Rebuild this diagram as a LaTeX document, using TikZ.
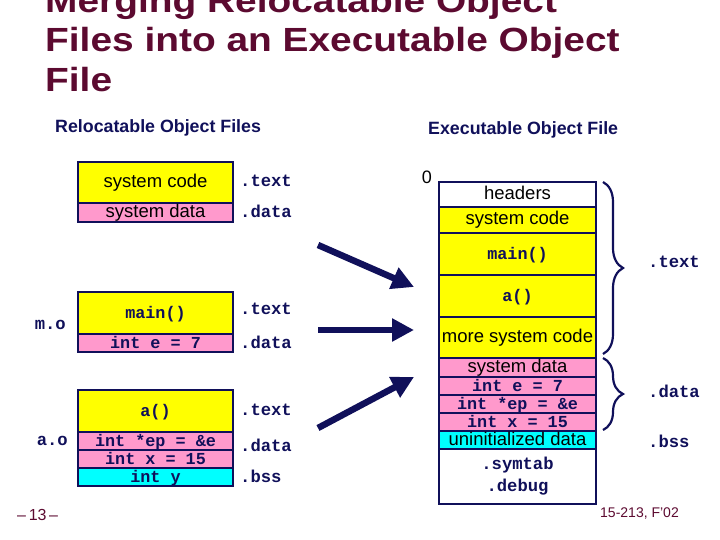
\documentclass[tikz,border=0pt]{standalone}
\usepackage{fontspec}
\setmainfont{Liberation Sans}
\newfontfamily\titlefont[FakeStretch=1.16]{Liberation Sans}
\newfontfamily\monofont{Liberation Mono}
\usetikzlibrary{arrows.meta,decorations.pathreplacing}
\definecolor{navy}{HTML}{10105A}
\definecolor{maroon}{HTML}{5C0A30}
\definecolor{segyellow}{HTML}{FFFF00}
\definecolor{segpink}{HTML}{FF99CC}
\definecolor{segcyan}{HTML}{00FFFF}
\begin{document}
\begin{tikzpicture}[x=1pt,y=-1pt,
  seg/.style={draw=navy, line width=1.6pt, inner sep=0pt, anchor=center, text=black},
  lseg/.style={seg, minimum width=155pt},
  rseg/.style={seg, minimum width=157pt},
  yel/.style={fill=segyellow},
  pnk/.style={fill=segpink},
  cyn/.style={fill=segcyan},
  wht/.style={fill=white},
  sans/.style={font=\fontsize{18.5}{21}\selectfont, text height=13pt, text depth=3pt},
  code/.style={font=\monofont\bfseries\fontsize{16.8}{18}\selectfont, text height=12pt, text depth=2pt, text=navy},
  sect/.style={font=\monofont\bfseries\fontsize{17.2}{18}\selectfont, text=navy, anchor=west, inner sep=0pt},
  objname/.style={font=\monofont\bfseries\fontsize{17.2}{18}\selectfont, text=navy, anchor=east, inner sep=0pt},
  heading/.style={font=\bfseries\fontsize{17.8}{20}\selectfont, text=navy, anchor=west, inner sep=0pt},
  titleline/.style={font=\titlefont\bfseries\fontsize{33.5}{40}\selectfont, text=maroon, anchor=base west, inner sep=0pt},
  bigarrow/.style={draw=navy, line width=6.5pt, -{Triangle[length=22pt,width=22pt]}},
  sbrace/.style={draw=navy, line width=2.2pt, decorate, decoration={brace, amplitude=20pt}}
]
\useasboundingbox (0,0) rectangle (720,540);
\clip (0,0) rectangle (720,540);

% title
\node[titleline] (t1) at (45,13) {Merging Relocatable Object};
\node[titleline] (t2) at (45,52) {Files into an Executable Object};
\node[titleline] (t3) at (45,92) {File};

% headings
\node[heading] (hl) at (55,128) {Relocatable Object Files};
\node[heading] (hr) at (428,130) {Executable Object File};

% left: system object
\node[lseg,yel,sans,minimum height=41pt] (lsc) at (155.5,182.5) {system code};
\node[lseg,pnk,sans,minimum height=19pt] (lsd) at (155.5,212.5) {system data};
\node[sect] (st1) at (240,181) {.text};
\node[sect] (sd1) at (240,211) {.data};

% m.o
\node[lseg,yel,code,minimum height=42pt] (lmain) at (155.5,313) {main()};
\node[lseg,pnk,code,minimum height=18pt] (le) at (155.5,343) {int e = 7};
\node[objname] (mo) at (66,325) {m.o};
\node[sect] (st2) at (240,309) {.text};
\node[sect] (sd2) at (240,342) {.data};

% a.o
\node[lseg,yel,code,minimum height=42pt] (la) at (155.5,411) {a()};
\node[lseg,pnk,code,minimum height=18pt] (lep) at (155.5,441) {int *ep = \&e};
\node[lseg,pnk,code,minimum height=18pt] (lx) at (155.5,459) {int x = 15};
\node[lseg,cyn,code,minimum height=18pt] (ly) at (155.5,477) {int y};
\node[objname] (ao) at (68,441) {a.o};
\node[sect] (st3) at (240,410) {.text};
\node[sect] (sd3) at (240,445) {.data};
\node[sect] (sb3) at (240,476) {.bss};

% right: executable
\node[font=\fontsize{18}{20}\selectfont, inner sep=0pt] (zero) at (427,177) {0};
\node[rseg,wht,sans,minimum height=25pt] (rh) at (517.5,194.5) {headers};
\node[rseg,yel,sans,minimum height=26pt] (rsc) at (517.5,220) {system code};
\node[rseg,yel,code,minimum height=42pt] (rmain) at (517.5,254) {main()};
\node[rseg,yel,code,minimum height=42pt] (ra) at (517.5,296) {a()};
\node[rseg,yel,sans,minimum height=41pt] (rmore) at (517.5,337.5) {more system code};
\node[rseg,pnk,sans,minimum height=19pt] (rsd) at (517.5,367.5) {system data};
\node[rseg,pnk,code,minimum height=18pt] (re) at (517.5,386) {int e = 7};
\node[rseg,pnk,code,minimum height=18pt] (rep) at (517.5,404) {int *ep = \&e};
\node[rseg,pnk,code,minimum height=18pt] (rx) at (517.5,422) {int x = 15};
\node[rseg,cyn,sans,minimum height=18pt] (ru) at (517.5,440) {uninitialized data};
\node[rseg,wht,minimum height=55pt, text width=157pt, align=center,
      font=\monofont\bfseries\fontsize{17.2}{22}\selectfont, text=navy] (rsym) at (517.5,476.5) {.symtab\\.debug};

% braces
\coordinate (btt) at (603,182);
\coordinate (btb) at (603,354);
\coordinate (bdt) at (603,358);
\coordinate (bdb) at (603,430);
\draw[sbrace] (btt) -- (btb);
\draw[sbrace] (bdt) -- (bdb);
\node[sect] (rt) at (648,262) {.text};
\node[sect] (rd) at (648,391) {.data};
\node[sect] (rb) at (648,441) {.bss};

% arrows
\coordinate (a1s) at (318,245);
\coordinate (a1e) at (414,287);
\coordinate (a2s) at (318,330);
\coordinate (a2e) at (414,330);
\coordinate (a3s) at (318,428);
\coordinate (a3e) at (414,377);
\draw[bigarrow] (a1s) -- (a1e);
\draw[bigarrow] (a2s) -- (a2e);
\draw[bigarrow] (a3s) -- (a3e);

% footer
\node[font=\fontsize{16}{17}\selectfont, text=maroon, anchor=west, inner sep=0pt] (pg) at (17,515) {--\,13\,--};
\node[font=\fontsize{14}{16}\selectfont, text=maroon, anchor=west, inner sep=0pt] (course) at (600,514) {15-213, F'02};
\end{tikzpicture}
\end{document}
